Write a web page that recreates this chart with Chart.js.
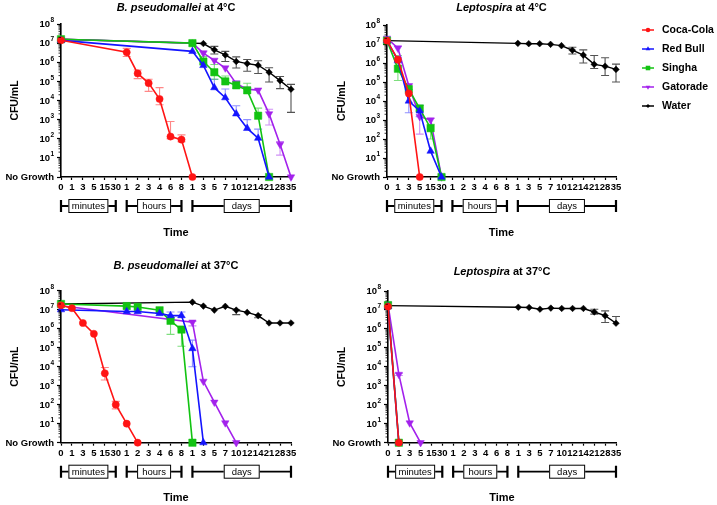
<!DOCTYPE html>
<html><head><meta charset="utf-8">
<script src="https://cdn.jsdelivr.net/npm/chart.js"></script>
<style>
html,body{margin:0;padding:0;background:#fff;}
body{width:717px;height:505px;position:relative;overflow:hidden;}
canvas{position:absolute;}
</style></head><body>
<canvas id="c1" width="300" height="250" style="left:0;top:0;width:300px;height:250px"></canvas>
<canvas id="c2" width="417" height="250" style="left:300px;top:0;width:417px;height:250px"></canvas>
<canvas id="c3" width="300" height="255" style="left:0;top:250px;width:300px;height:255px"></canvas>
<canvas id="c4" width="417" height="255" style="left:300px;top:250px;width:417px;height:255px"></canvas>
<script>
// ---------- categories & tick labels ----------
// minutes: 0..30, hours: 1..8, days: 1..35
const timeLabels = ['0','1','3','5','15','30', '1','2','3','4','6','8', '1','3','5','7','10','12','14','21','28','35'];
const unitGroups = ['minutes','hours','days'];
const yTickValues = [1,10,100,1e3,1e4,1e5,1e6,1e7,1e8];
const yTickBase = '10';
const yTickExponents = ['','1','2','3','4','5','6','7','8'];
const noGrowthLabel = 'No Growth';
const seriesNames = ['Coca-Cola','Red Bull','Singha','Gatorade','Water'];
const NG = 1;       // "No Growth"
const _ = null;

// ---------- B. pseudomallei at 4°C ----------
const bp4_coca     = [1.4e7,_,_,_,_,_, 3.3e6,2.6e5,8.1e4,1.2e4,130,90, NG,_,_,_,_,_,_,_,_,_];
const bp4_redbull  = [1.4e7,_,_,_,_,_, _,_,_,_,_,_, 3.7e6,6.8e5,4.7e4,1.4e4,2e3,350,107,NG,_,_];
const bp4_singha   = [1.6e7,_,_,_,_,_, _,_,_,_,_,_, 1e7,1.1e6,3e5,1e5,6.2e4,3.4e4,1.6e3,NG,_,_];
const bp4_gatorade = [1.6e7,_,_,_,_,_, _,_,_,_,_,_, 1e7,3e6,1.26e6,5e5,7.6e4,3.9e4,3.5e4,2e3,51,NG];
const bp4_water    = [1.6e7,_,_,_,_,_, _,_,_,_,_,_, 1e7,9.5e6,4.5e6,2.4e6,1.1e6,8.5e5,7e5,3e5,1.1e5,3.9e4];
const bp4_coca_err     = [_,_,_,_,_,_, [2e6,5.3e6],[1.4e5,3.9e5],[3e4,1.3e5],[6e3,4.7e4],[100,800],[70,160], _,_,_,_,_,_,_,_,_,_];
const bp4_redbull_err  = [_,_,_,_,_,_, _,_,_,_,_,_, _,_,[4.7e4,1.3e5],[1.4e4,4e4],[2e3,5.3e3],[350,1e3],[107,320],_,_,_];
const bp4_singha_err   = [_,_,_,_,_,_, _,_,_,_,_,_, _,[1.1e6,2e6],[1.3e5,7.6e5],[1e5,1.9e5],[4.5e4,1e5],[3.4e4,8e4],[1.6e3,4e3],_,_,_];
const bp4_gatorade_err = [_,_,_,_,_,_, _,_,_,_,_,_, _,[3e6,4e6],_,_,[7.6e4,1.1e5],_,_,[520,3.5e3],[14,72],_];
const bp4_water_err    = [_,_,_,_,_,_, _,_,_,_,_,_, _,_,[2.7e6,6.8e6],[1.1e6,3.7e6],[5e5,1.9e6],[3.4e5,1.4e6],[2.6e5,1.2e6],[9.3e4,5.2e5],[4.2e4,1.8e5],[2.4e3,7e4]];

// ---------- Leptospira at 4°C ----------
const lp4_coca     = [1.5e7,1.5e6,2.5e4,NG,_,_, _,_,_,_,_,_, _,_,_,_,_,_,_,_,_,_];
const lp4_redbull  = [1.5e7,1.4e6,1e4,3e3,23,NG, _,_,_,_,_,_, _,_,_,_,_,_,_,_,_,_];
const lp4_singha   = [1.5e7,5e5,4.2e4,4e3,370,NG, _,_,_,_,_,_, _,_,_,_,_,_,_,_,_,_];
const lp4_gatorade = [2e7,6e6,6.3e4,1.5e3,1e3,NG, _,_,_,_,_,_, _,_,_,_,_,_,_,_,_,_];
const lp4_water    = [1.5e7,_,_,_,_,_, _,_,_,_,_,_, 1.08e7,1.04e7,1.04e7,9.6e6,8.2e6,4.7e6,2.6e6,8.5e5,6.8e5,4.6e5];
const lp4_coca_err     = [_,_,_,_,_,_, _,_,_,_,_,_, _,_,_,_,_,_,_,_,_,_];
const lp4_redbull_err  = [_,[1e6,2e6],[2.4e3,4e4],[1.5e3,6e3],_,_, _,_,_,_,_,_, _,_,_,_,_,_,_,_,_,_];
const lp4_singha_err   = [_,[1.2e5,2.5e6],_,[3e3,6e3],[100,600],_, _,_,_,_,_,_, _,_,_,_,_,_,_,_,_,_];
const lp4_gatorade_err = [_,[6e6,8e6],[6.3e4,8e4],[180,3e3],[1e3,1.2e3],_, _,_,_,_,_,_, _,_,_,_,_,_,_,_,_,_];
const lp4_water_err    = [_,_,_,_,_,_, _,_,_,_,_,_, _,_,_,_,_,[3e6,6.7e6],[1e6,4.9e6],[5.1e5,2.5e6],[2.2e5,1.9e6],[1e5,8.7e5]];

// ---------- B. pseudomallei at 37°C ----------
const bp37_coca     = [1.7e7,1.2e7,2e6,5.4e5,4.5e3,100, 10,NG,_,_,_,_, _,_,_,_,_,_,_,_,_,_];
const bp37_redbull  = [1e7,_,_,_,_,_, 8e6,8e6,_,6.3e6,4.9e6,4.9e6, 9e4,NG,_,_,_,_,_,_,_,_];
const bp37_singha   = [2e7,_,_,_,_,_, 1.55e7,1.4e7,_,9.3e6,2.6e6,9e5, NG,_,_,_,_,_,_,_,_,_];
const bp37_gatorade = [1.6e7,_,_,_,_,_, _,_,_,_,_,_, 2.2e6,1.7e3,135,11,NG,_,_,_,_,_];
const bp37_water    = [2e7,_,_,_,_,_, _,_,_,_,_,_, 2.5e7,1.55e7,9.5e6,1.5e7,9.5e6,7.2e6,4.9e6,2e6,2e6,2e6];
const bp37_coca_err     = [_,_,_,_,[2e3,9e3],[60,150], _,_,_,_,_,_, _,_,_,_,_,_,_,_,_,_];
const bp37_redbull_err  = [_,_,_,_,_,_, _,_,_,_,[4e6,7.5e6],[4e6,7.5e6], [1e4,2.5e5],_,_,_,_,_,_,_,_,_];
const bp37_singha_err   = [_,_,_,_,_,_, _,_,_,_,[5e5,3.5e6],[1.2e5,1.1e6], _,_,_,_,_,_,_,_,_,_];
const bp37_gatorade_err = [_,_,_,_,_,_, _,_,_,_,_,_, [1.4e6,2.4e6],_,_,_,_,_,_,_,_,_];
const bp37_water_err    = [_,_,_,_,_,_, _,_,_,_,_,_, _,_,_,_,[5.5e6,1e7],_,[3.8e6,5.5e6],_,_,_];

// ---------- Leptospira at 37°C ----------
const lp37_coca     = [1.5e7,NG,_,_,_,_, _,_,_,_,_,_, _,_,_,_,_,_,_,_,_,_];
const lp37_redbull  = [1.5e7,NG,_,_,_,_, _,_,_,_,_,_, _,_,_,_,_,_,_,_,_,_];
const lp37_singha   = [1.8e7,NG,_,_,_,_, _,_,_,_,_,_, _,_,_,_,_,_,_,_,_,_];
const lp37_gatorade = [2e7,4e3,11,NG,_,_, _,_,_,_,_,_, _,_,_,_,_,_,_,_,_,_];
const lp37_water    = [1.7e7,_,_,_,_,_, _,_,_,_,_,_, 1.4e7,1.35e7,1.1e7,1.25e7,1.2e7,1.2e7,1.2e7,7.8e6,5e6,2e6];
const lp37_coca_err     = [_,_,_,_,_,_, _,_,_,_,_,_, _,_,_,_,_,_,_,_,_,_];
const lp37_redbull_err  = [_,_,_,_,_,_, _,_,_,_,_,_, _,_,_,_,_,_,_,_,_,_];
const lp37_singha_err   = [_,_,_,_,_,_, _,_,_,_,_,_, _,_,_,_,_,_,_,_,_,_];
const lp37_gatorade_err = [_,[3.5e3,4.5e3],_,_,_,_, _,_,_,_,_,_, _,_,_,_,_,_,_,_,_,_];
const lp37_water_err    = [_,_,_,_,_,_, _,_,_,_,_,_, _,_,_,_,_,_,_,[6e6,1.1e7],[2.2e6,9e6],[2e6,4.5e6]];

// ---------- styles ----------
const FONT = '"Liberation Sans", Arial, Helvetica, sans-serif';
const STYLE = [
  {color:'#FF1414', point:'circle',   r:3.6, rot:0,   err:'rgba(255,70,70,0.65)'},
  {color:'#1414FF', point:'triangle', r:4.3, rot:0,   err:'rgba(70,70,255,0.6)'},
  {color:'#12C312', point:'rect',     r:5.2, rot:0,   err:'rgba(40,200,40,0.6)'},
  {color:'#A321EC', point:'triangle', r:4.3, rot:180, err:'rgba(175,70,240,0.6)'},
  {color:'#000000', point:'rectRot',  r:3.3, rot:0,   err:'rgba(40,40,40,0.8)'}
];
const GROUP_RANGES = [[0,5],[6,11],[12,21]];
const GROUP_BOX_W = [40,34,36];

function buildDatasets(values, errors) {
  return values.map((vals, s) => ({
    label: seriesNames[s], data: vals, errors: errors[s], errColor: STYLE[s].err,
    borderColor: STYLE[s].color, backgroundColor: STYLE[s].color,
    pointBackgroundColor: STYLE[s].color, pointBorderColor: STYLE[s].color,
    pointStyle: STYLE[s].point, pointRadius: STYLE[s].r, pointRotation: STYLE[s].rot,
    pointBorderWidth: 0.5, borderWidth: s === 4 ? 1.4 : 1.6,
    spanGaps: true, clip: false, tension: 0
  }));
}

function makePanel(p) {
  const errorBars = {
    id: 'errorBars',
    beforeDatasetsDraw(chart) {
      const ctx = chart.ctx, xs = chart.scales.x, ys = chart.scales.y;
      chart.data.datasets.forEach(ds => {
        (ds.errors || []).forEach((e, i) => {
          if (!e || ds.data[i] == null) return;
          const v = ds.data[i];
          const px = xs.getPixelForValue(i);
          const plo = ys.getPixelForValue(e[0]), phi = ys.getPixelForValue(e[1]);
          ctx.save();
          ctx.strokeStyle = ds.errColor; ctx.lineWidth = 1.1;
          ctx.beginPath();
          ctx.moveTo(px, plo); ctx.lineTo(px, phi);
          if (e[1] > v) { ctx.moveTo(px - 4, phi); ctx.lineTo(px + 4, phi); }
          if (e[0] < v) { ctx.moveTo(px - 4, plo); ctx.lineTo(px + 4, plo); }
          ctx.stroke();
          ctx.restore();
        });
      });
    }
  };
  const decor = {
    id: 'decor',
    afterDraw(chart) {
      const ctx = chart.ctx, xs = chart.scales.x, ys = chart.scales.y, ca = chart.chartArea;
      ctx.save();
      // minor log ticks
      ctx.strokeStyle = '#000'; ctx.lineWidth = 0.8;
      ctx.beginPath();
      for (let d = 0; d < 8; d++) {
        for (let k = 2; k <= 9; k++) {
          const py = ys.getPixelForValue(k * Math.pow(10, d));
          ctx.moveTo(ca.left - 2.5, py); ctx.lineTo(ca.left, py);
        }
      }
      ctx.stroke();
      // y tick labels (10 with superscript exponent)
      ctx.fillStyle = '#000'; ctx.textBaseline = 'middle'; ctx.textAlign = 'right';
      const rx = ca.left - 7;
      yTickValues.forEach((v, i) => {
        const py = ys.getPixelForValue(v);
        if (i === 0) {
          ctx.font = 'bold 9.5px ' + FONT;
          ctx.fillText(noGrowthLabel, rx, py + 0.5);
        } else {
          ctx.font = 'bold 6.5px ' + FONT;
          const ew = ctx.measureText(yTickExponents[i]).width;
          ctx.fillText(yTickExponents[i], rx, py - 3.5);
          ctx.font = 'bold 9.5px ' + FONT;
          ctx.fillText(yTickBase, rx - ew - 0.3, py + 0.5);
        }
      });
      // title
      const cx = (ca.left + ca.right) / 2;
      ctx.fillStyle = '#000'; ctx.textBaseline = 'middle';
      ctx.font = 'italic bold 11px ' + FONT;
      const w1 = ctx.measureText(p.title[0]).width;
      ctx.font = 'bold 11px ' + FONT;
      const w2 = ctx.measureText(p.title[1]).width;
      let tx = cx - (w1 + w2) / 2;
      ctx.textAlign = 'left';
      ctx.font = 'italic bold 11px ' + FONT;
      ctx.fillText(p.title[0], tx, p.titleY);
      ctx.font = 'bold 11px ' + FONT;
      ctx.fillText(p.title[1], tx + w1, p.titleY);
      // unit brackets
      const by = ca.bottom + 29;
      GROUP_RANGES.forEach((g, gi) => {
        const x1 = xs.getPixelForValue(g[0]), x2 = xs.getPixelForValue(g[1]);
        ctx.strokeStyle = '#000';
        ctx.lineWidth = 1.8;
        ctx.beginPath(); ctx.moveTo(x1, by); ctx.lineTo(x2, by); ctx.stroke();
        ctx.lineWidth = 2.2;
        ctx.beginPath();
        ctx.moveTo(x1, by - 6); ctx.lineTo(x1, by + 6);
        ctx.moveTo(x2, by - 6); ctx.lineTo(x2, by + 6);
        ctx.stroke();
        const bw = GROUP_BOX_W[gi], bcx = (x1 + x2) / 2;
        ctx.fillStyle = '#fff';
        ctx.fillRect(bcx - bw / 2, by - 7, bw, 14);
        ctx.lineWidth = 1;
        ctx.strokeRect(bcx - bw / 2 + 0.5, by - 7 + 0.5, bw - 1, 13);
        ctx.fillStyle = '#000';
        ctx.font = '9.5px ' + FONT;
        ctx.textAlign = 'center';
        ctx.fillText(unitGroups[gi], bcx, by + 0.5);
      });
      // legend
      if (p.legend) {
        chart.data.datasets.forEach((ds, s) => {
          const ly = p.legend.y + s * p.legend.dy;
          ctx.strokeStyle = STYLE[s].color; ctx.fillStyle = STYLE[s].color;
          ctx.lineWidth = 1.5;
          ctx.beginPath(); ctx.moveTo(p.legend.x, ly); ctx.lineTo(p.legend.x + 12, ly); ctx.stroke();
          if (Chart.helpers && Chart.helpers.drawPoint) {
            Chart.helpers.drawPoint(ctx, {pointStyle: STYLE[s].point, radius: STYLE[s].r * 0.62, rotation: STYLE[s].rot, borderWidth: 0}, p.legend.x + 6, ly);
          }
          ctx.fillStyle = '#000';
          ctx.font = 'bold 10.5px ' + FONT;
          ctx.textAlign = 'left';
          ctx.fillText(ds.label, p.legend.x + 20, ly + 0.5);
        });
      }
      ctx.restore();
    }
  };
  return new Chart(document.getElementById(p.id), {
    type: 'line',
    data: { labels: timeLabels, datasets: buildDatasets(p.values, p.errors) },
    options: {
      responsive: false, animation: false, devicePixelRatio: 1,
      layout: { padding: { left: 0, top: p.top, right: p.W - p.right, bottom: 0 } },
      plugins: { legend: { display: false }, tooltip: { enabled: false }, title: { display: false } },
      scales: {
        x: {
          type: 'category', offset: false,
          afterFit: s => { s.height = p.H - p.bottom; },
          grid: { display: true, drawOnChartArea: false, drawTicks: true, tickLength: 3, tickColor: '#000', tickWidth: 1.2 },
          border: { display: true, color: '#000', width: 1.6 },
          ticks: { autoSkip: false, maxRotation: 0, minRotation: 0, padding: 2, color: '#000',
                   font: { family: FONT, size: 9.5, weight: 'bold' } },
          title: { display: true, text: 'Time', color: '#000',
                   font: { family: FONT, size: 11, weight: 'bold' },
                   padding: { top: 0, bottom: Math.max(0, p.H - p.timeY - 6.6) } }
        },
        y: {
          type: 'logarithmic', min: 1, max: 1e8,
          afterBuildTicks: s => { s.ticks = yTickValues.map(v => ({ value: v })); },
          afterFit: s => { s.width = p.left; },
          grid: { display: true, drawOnChartArea: false, drawTicks: true, tickLength: 4, tickColor: '#000', tickWidth: 1.2 },
          border: { display: true, color: '#000', width: 1.6 },
          ticks: { display: false, autoSkip: false },
          title: { display: true, text: 'CFU/mL', color: '#000',
                   font: { family: FONT, size: 10.5, weight: 'bold' },
                   padding: { top: p.yTitleX - 6.3, bottom: 0 } }
        }
      }
    },
    plugins: [errorBars, decor]
  });
}

makePanel({ id: 'c1', W: 300, H: 250, left: 61, right: 291, top: 24, bottom: 177,
  title: ['B. pseudomallei', ' at 4\u00B0C'], titleY: 7.5, yTitleX: 15, timeY: 233,
  values: [bp4_coca, bp4_redbull, bp4_singha, bp4_gatorade, bp4_water],
  errors: [bp4_coca_err, bp4_redbull_err, bp4_singha_err, bp4_gatorade_err, bp4_water_err] });
makePanel({ id: 'c2', W: 417, H: 250, left: 87, right: 316, top: 25, bottom: 177,
  title: ['Leptospira', ' at 4\u00B0C'], titleY: 7.5, yTitleX: 41.7, timeY: 233,
  legend: { x: 342, y: 30, dy: 19 },
  values: [lp4_coca, lp4_redbull, lp4_singha, lp4_gatorade, lp4_water],
  errors: [lp4_coca_err, lp4_redbull_err, lp4_singha_err, lp4_gatorade_err, lp4_water_err] });
makePanel({ id: 'c3', W: 300, H: 255, left: 61, right: 291, top: 40.7, bottom: 192.7,
  title: ['B. pseudomallei', ' at 37\u00B0C'], titleY: 16, yTitleX: 15, timeY: 249,
  values: [bp37_coca, bp37_redbull, bp37_singha, bp37_gatorade, bp37_water],
  errors: [bp37_coca_err, bp37_redbull_err, bp37_singha_err, bp37_gatorade_err, bp37_water_err] });
makePanel({ id: 'c4', W: 417, H: 255, left: 88, right: 316, top: 41, bottom: 192.7,
  title: ['Leptospira', ' at 37\u00B0C'], titleY: 22.3, yTitleX: 41.7, timeY: 249.3,
  values: [lp37_coca, lp37_redbull, lp37_singha, lp37_gatorade, lp37_water],
  errors: [lp37_coca_err, lp37_redbull_err, lp37_singha_err, lp37_gatorade_err, lp37_water_err] });
</script>
</body></html>
